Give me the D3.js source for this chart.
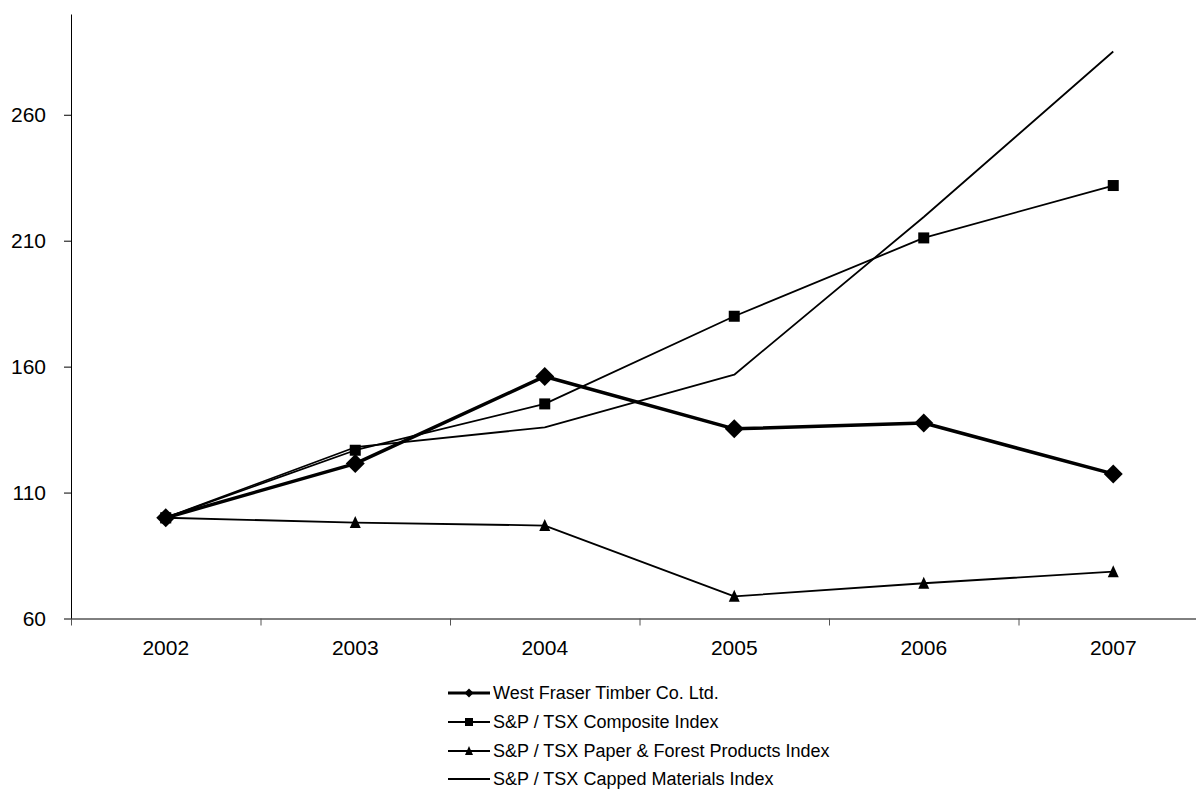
<!DOCTYPE html>
<html lang="en">
<head>
    <meta charset="UTF-8">
    <title>Line chart</title>
    <script src="https://cdn.jsdelivr.net/npm/d3@7"></script>
    <style>
        body { margin: 0; background: #fff; }
        text { font-family: "Liberation Sans", Arial, sans-serif; fill: #000; }
    </style>
</head>
<body>
<script>

    var width = 1196;
    var height = 795;

    var years = ['2002', '2003', '2004', '2005', '2006', '2007'];
    var yTicks = [60, 110, 160, 210, 260];

    var westFraser = [100, 121.5, 156.1, 135.3, 137.6, 117.4];
    var composite = [100, 126.8, 145.2, 180.0, 211.1, 231.9];
    var paperForest = [100, 98.1, 96.9, 68.8, 74.0, 78.6];
    var cappedMaterials = [100, 128.0, 135.9, 156.8, 219.4, 285.1];

    var seriesNames = [
        'West Fraser Timber Co. Ltd.',
        'S&P / TSX Composite Index',
        'S&P / TSX Paper & Forest Products Index',
        'S&P / TSX Capped Materials Index'
    ];

    var series = [
        {name: seriesNames[0], values: westFraser, marker: 'diamond', width: 3.5},
        {name: seriesNames[1], values: composite, marker: 'square', width: 1.8},
        {name: seriesNames[2], values: paperForest, marker: 'triangle', width: 1.8},
        {name: seriesNames[3], values: cappedMaterials, marker: 'none', width: 1.8}
    ];

    var svg = d3.select('body')
        .append('svg')
        .attr('width', width)
        .attr('height', height);

    var x = d3.scaleBand()
        .domain(years)
        .range([71, 1208])
        .padding(0);

    var xEdges = d3.scaleLinear()
        .domain([0, years.length])
        .range([71, 1208]);

    var y = d3.scaleLinear()
        .domain([60, 300])
        .range([618.5, 14]);

    // y 轴
    svg.append('g')
        .attr('transform', 'translate(71,0)')
        .call(d3.axisLeft(y).tickValues(yTicks).tickSize(7).tickSizeOuter(0).tickPadding(18))
        .call(function (g) {
            g.selectAll('text').style('font-size', '21px');
            g.select('.domain').attr('stroke', '#000');
            g.selectAll('.tick line').attr('stroke', '#000');
        });

    // x 轴刻度线 (在类别之间)
    svg.append('g')
        .attr('transform', 'translate(0,618.5)')
        .call(d3.axisBottom(xEdges).tickValues(d3.range(years.length + 1)).tickFormat('').tickSize(7).tickSizeOuter(0))
        .call(function (g) {
            g.select('.domain').attr('stroke', '#000');
            g.selectAll('.tick line').attr('stroke', '#555');
        });

    // x 轴标签
    svg.append('g')
        .attr('transform', 'translate(0,618.5)')
        .call(d3.axisBottom(x).tickSize(0).tickPadding(22))
        .call(function (g) {
            g.select('.domain').remove();
            g.selectAll('text').style('font-size', '21px');
        });

    function cx(i) {
        return x(years[i]) + x.bandwidth() / 2;
    }

    var line = d3.line()
        .x(function (d, i) { return cx(i); })
        .y(function (d) { return y(d); });

    function drawMarker(g, type, px, py, big) {
        if (type === 'diamond') {
            var r = big ? 9.5 : 4.5;
            g.append('path')
                .attr('d', 'M' + px + ',' + (py - r) + 'L' + (px + r) + ',' + py + 'L' + px + ',' + (py + r) + 'L' + (px - r) + ',' + py + 'Z')
                .attr('fill', '#000');
        } else if (type === 'square') {
            var s = big ? 11 : 8;
            g.append('rect')
                .attr('x', px - s / 2).attr('y', py - s / 2)
                .attr('width', s).attr('height', s)
                .attr('fill', '#000');
        } else if (type === 'triangle') {
            var w = big ? 11 : 8;
            g.append('path')
                .attr('d', 'M' + px + ',' + (py - w / 2 - 1) + 'L' + (px + w / 2) + ',' + (py + w / 2) + 'L' + (px - w / 2) + ',' + (py + w / 2) + 'Z')
                .attr('fill', '#000');
        }
    }

    // 先画细线, 最后画粗线
    var drawOrder = [3, 2, 1, 0];
    drawOrder.forEach(function (k) {
        var s = series[k];
        var g = svg.append('g');
        g.append('path')
            .datum(s.values)
            .attr('d', line)
            .attr('fill', 'none')
            .attr('stroke', '#000')
            .attr('stroke-width', s.width)
            .attr('stroke-linejoin', 'round');
        s.values.forEach(function (v, i) {
            drawMarker(g, s.marker, cx(i), y(v), true);
        });
    });

    // 图例
    var legendY = [693, 722, 751, 779];
    var legend = svg.append('g');
    series.forEach(function (s, i) {
        var ly = legendY[i];
        legend.append('line')
            .attr('x1', 448).attr('x2', 490)
            .attr('y1', ly).attr('y2', ly)
            .attr('stroke', '#000')
            .attr('stroke-width', i === 0 ? 3 : 1.8);
        drawMarker(legend, s.marker, 469, ly, false);
        legend.append('text')
            .attr('x', 493)
            .attr('y', ly)
            .attr('dy', '0.35em')
            .style('font-size', '18px')
            .text(s.name);
    });

</script>
</body>
</html>
